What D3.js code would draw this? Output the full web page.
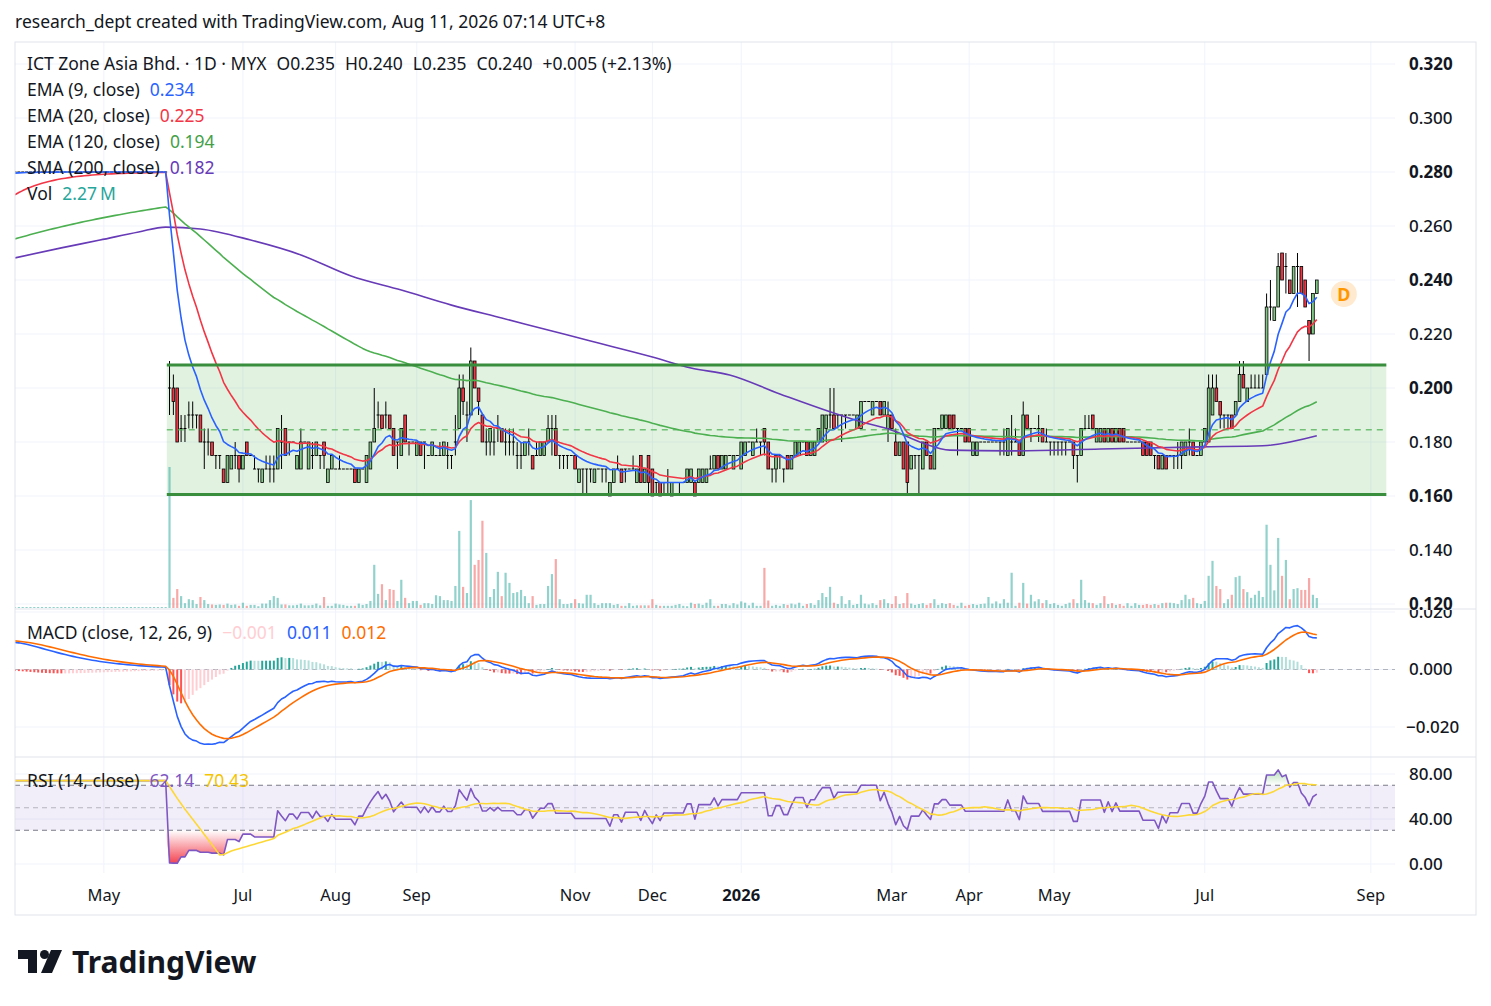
<!DOCTYPE html>
<html>
<head>
<meta charset="utf-8">
<title>ICT Zone Asia Bhd. 1D</title>
<script src="https://cdn.jsdelivr.net/npm/d3@7/dist/d3.min.js"></script>
<style>
	body { margin: 0; background: #ffffff; }
	svg text { font-family: "Noto Sans", Roboto, "DejaVu Sans", sans-serif; }
</style>
</head>
<body>
<script>
(function(){

	//halted stretch before trading resumed: flat prints at 0.280, next to no volume
	var haltedPrices = [280,280,280,280,280,280,280,280,280,280,280,280,280,280,280,280,280,280,280,280,
		280,280,280,280,280,280,280,280,280,280,280,280,280,280,280,280,280,280,280,280];
	var haltedVolumes = [0.05,0.05,0.05,0.05,0.05,0.05,0.05,0.05,0.05,0.05,0.05,0.05,0.05,0.05,0.05,0.05,0.05,0.05,0.05,0.05,
		0.05,0.05,0.05,0.05,0.05,0.05,0.05,0.05,0.05,0.05,0.05,0.05,0.05,0.05,0.05,0.05,0.05,0.05,0.05,0.05];

	//daily candles after resumption, prices in thousandths of a ringgit
	var opens = [200,200,200,185,185,190,190,190,190,180, 180,180,175,175,170,165,170,175,175,170,
		180,175,170,170,165,170,170,170,170,180, 185,180,180,170,170,180,170,175,175,175,
		180,165,170,170,170,170,170,170,170,165, 170,165,170,180,190,190,190,190,185,180,
		175,190,180,180,175,180,180,175,175,175, 175,175,175,175,180,185,200,190,190,210,
		200,190,180,180,180,185,185,180,180,180, 175,175,175,180,175,175,175,175,180,185,
		185,175,175,175,175,175,165,170,170,170, 165,170,170,170,160,165,170,170,170,170,
		170,165,175,165,175,170,165,165,165,165, 160,165,165,165,165,165,165,165,165,165,
		170,170,175,170,170,175,170,175,170,175, 180,175,180,180,185,180,170,170,175,170,
		175,170,175,175,180,180,175,175,180,180, 185,190,190,190,190,190,190,190,185,185,
		195,195,190,195,195,190,185,190,180,175, 180,180,170,175,175,170,180,175,170,185,
		185,185,190,190,185,185,185,185,175,175, 180,180,180,180,180,180,180,175,180,180,
		180,175,190,185,185,185,185,180,180,180, 180,180,180,180,180,175,175,185,185,190,
		180,180,185,180,185,180,185,185,180,180, 180,180,180,180,180,175,175,170,175,175,
		175,175,175,175,180,180,175,175,180,180, 190,200,195,190,190,190,190,195,205,195,
		200,200,200,200,205,230,225,230,250,245, 240,235,245,245,240,225,220,235];
	var highs = [210,205,200,190,190,195,195,190,190,185, 185,180,175,175,170,175,175,180,175,175,
		180,175,175,170,170,175,175,175,185,190, 185,180,180,175,185,180,180,180,180,175,
		180,170,175,170,175,170,170,170,170,170, 170,175,180,200,195,190,195,190,185,180,
		185,190,180,180,180,180,180,175,180,175, 180,180,180,175,190,205,205,195,215,210,
		200,190,185,185,185,190,185,185,185,185, 180,180,180,185,175,180,180,180,190,190,
		190,175,175,175,175,175,170,170,170,170, 170,170,170,170,165,170,175,170,170,170,
		175,170,175,170,175,170,165,165,165,170, 165,165,165,165,170,170,165,170,170,170,
		175,175,175,175,175,175,175,175,180,180, 180,180,185,180,185,180,170,175,175,170,
		175,175,180,180,180,180,180,180,185,190, 190,200,200,190,190,190,190,190,190,195,
		195,195,195,195,195,195,195,190,185,180, 180,180,175,175,175,180,180,175,185,185,
		190,190,190,190,185,185,185,185,180,180, 180,180,180,180,180,180,185,185,190,185,
		180,195,190,185,185,190,185,185,180,180, 180,180,180,180,180,175,185,190,190,190,
		185,185,185,185,185,185,185,185,180,180, 180,180,180,180,180,175,175,175,175,175,
		175,180,180,180,185,180,175,180,185,205, 205,205,195,190,190,190,195,210,210,200,
		205,205,205,205,235,240,230,250,250,250, 240,245,250,245,240,225,235,240];
	var lows = [190,190,180,180,180,185,185,185,180,170, 175,175,170,170,165,165,170,170,165,170,
		175,175,170,165,165,170,165,165,170,170, 175,175,180,170,170,180,170,170,175,170,
		170,165,170,170,170,170,170,170,165,165, 170,165,170,180,185,185,185,185,175,170,
		175,180,175,180,175,175,170,175,175,175, 175,175,170,170,175,185,190,180,190,200,
		190,180,175,175,175,180,180,175,175,175, 170,170,175,175,170,175,175,175,180,175,
		175,170,170,170,175,170,165,160,160,165, 165,170,165,165,160,165,170,165,165,170,
		170,165,165,165,160,160,160,160,160,160, 160,165,160,165,165,165,160,165,165,165,
		170,170,170,170,170,175,170,175,170,175, 180,175,180,175,175,170,165,165,170,165,
		170,170,175,175,180,175,175,175,180,180, 180,185,185,185,180,185,190,190,185,185,
		195,195,190,195,190,190,180,185,175,175, 170,160,170,170,160,170,175,170,170,185,
		185,185,185,185,175,185,180,180,175,175, 180,180,180,180,180,175,175,175,175,180,
		175,175,185,180,185,180,180,180,175,175, 175,175,175,180,170,165,175,185,185,185,
		180,180,180,180,180,180,180,180,180,180, 180,180,175,175,175,170,170,170,170,175,
		170,170,170,175,175,175,175,175,180,180, 190,195,185,185,185,185,190,195,200,195,
		200,200,200,200,205,225,225,230,240,235, 235,235,230,235,230,210,220,235];
	var closes = [200,195,180,185,185,190,190,190,180,180, 180,175,175,175,165,175,175,175,170,175,
		175,175,170,170,170,170,170,170,185,180, 175,180,180,175,180,180,180,175,180,175,
		175,170,175,170,170,170,170,170,165,170, 170,175,180,185,190,185,190,185,175,180,
		185,180,180,180,180,175,180,175,180,175, 175,180,175,175,180,200,195,190,210,200,
		195,180,180,185,180,185,180,180,180,180, 175,175,180,180,170,175,180,180,185,185,
		175,175,175,175,175,170,170,170,170,170, 170,170,170,170,165,170,170,165,170,170,
		170,170,165,170,165,160,165,160,165,165, 165,165,165,165,170,170,160,170,170,170,
		170,175,170,175,175,175,175,175,180,180, 180,180,180,180,180,170,170,175,175,170,
		170,175,180,180,180,175,180,180,185,190, 190,190,185,190,190,190,190,190,190,195,
		195,195,195,195,190,195,190,185,175,180, 170,165,175,175,175,180,175,170,185,185,
		190,190,185,185,185,185,180,180,180,180, 180,180,180,180,180,180,180,185,180,180,
		175,190,185,185,185,185,180,180,180,180, 180,180,180,180,175,175,185,185,185,185,
		185,185,180,185,180,185,180,180,180,180, 180,180,175,175,175,175,170,175,170,175,
		175,175,180,180,180,175,175,180,185,200, 200,195,190,190,190,185,195,205,200,200,
		200,200,200,200,230,230,230,245,240,245, 235,245,245,235,230,220,235,240];
	//daily volume, millions of shares
	var volumes = [32,2.3,4.3,2.7,1.1,2.0,1.8,0.9,2.5,1.8, 0.9,0.8,0.7,0.8,0.7,1.0,0.7,0.8,0.5,1.2,
		0.5,0.7,0.7,0.4,1.0,1.0,1.8,2.7,2.3,0.8, 0.8,0.6,0.6,0.7,1.0,0.6,0.6,0.7,1.0,0.6,
		2.5,0.5,0.5,1.0,0.8,0.7,0.5,0.5,0.5,1.0, 0.7,0.9,1.6,9.8,3.2,5.4,1.8,4.3,4.1,1.6,
		6.4,2.3,1.1,1.6,1.6,0.7,1.1,1.1,0.9,2.9, 2.7,1.8,1.8,1.6,5.0,17.5,4.8,3.4,24.5,9.8,
		10.9,19.8,12.5,2.5,4.3,8.2,2.7,8.0,5.7,3.4, 3.6,4.1,2.7,1.1,2.7,0.7,0.9,0.9,5.0,7.7,
		11.1,2.0,0.9,0.9,1.1,2.0,1.1,1.0,3.0,3.0, 1.1,0.7,1.1,1.1,1.1,0.7,0.9,0.5,0.5,1.1,
		0.5,0.6,0.6,0.6,0.6,2.0,0.7,0.5,0.5,0.5, 0.5,0.7,0.9,0.5,0.4,1.2,0.9,1.0,0.7,1.2,
		2.0,0.5,0.5,0.9,0.9,0.6,1.1,0.8,1.5,1.2, 0.6,1.2,0.5,0.5,9.1,1.7,0.5,0.7,0.5,0.9,
		0.7,1.0,0.8,1.2,0.5,0.9,1.1,0.7,1.8,3.4, 2.5,4.8,1.2,0.9,2.7,0.9,1.8,0.7,0.9,3.0,
		1.0,0.8,1.1,0.7,1.8,2.0,1.1,0.9,2.7,0.9, 1.1,3.4,1.0,0.7,0.9,1.1,0.7,1.1,2.0,0.7,
		1.1,0.9,1.1,0.7,0.5,1.2,0.5,0.7,0.9,0.7, 0.9,1.0,2.5,1.0,1.5,1.0,2.0,1.2,8.0,0.5,
		1.2,5.7,1.0,3.0,1.5,2.0,1.1,1.8,0.9,1.1, 0.7,0.5,0.9,1.2,2.0,1.1,6.4,1.8,1.2,1.1,
		0.7,1.1,2.7,0.9,1.1,0.7,0.9,0.5,1.1,0.5, 1.1,0.7,0.7,0.9,0.7,0.9,0.7,1.1,1.2,1.2,
		1.1,0.9,1.8,3.0,2.0,2.3,1.1,0.9,1.6,7.3, 10.7,5.0,4.3,1.1,2.0,3.0,7.0,7.3,4.3,3.6,
		2.3,3.0,3.9,2.5,18.9,9.8,4.0,15.9,7.3,10.9, 2.0,4.3,4.5,4.1,4.1,6.8,3.0,2.27];

	//SMA 200 at bar positions (bar index counted from the left edge)
	var smaIndex = [0,12,22,32,39,48,61,74,87,100,113,126,139,149,165,175,185,198,219,227,235,242,257,281,307,323,337];
	var smaValue = [0.2482,0.2519,0.2548,0.2578,0.2596,0.2589,0.2548,0.2493,0.2415,0.2363,0.2307,0.2259,0.2211,0.2174,
		0.2115,0.2074,0.2048,0.1978,0.1875,0.1844,0.1796,0.1770,0.1767,0.1774,0.1782,0.1786,0.1823];

	//indicator state at the left edge of the chart
	var seedEma9 = 0.2795, seedEma20 = 0.2707, seedEma120 = 0.2548,
		seedEma12 = 0.272, seedEma26 = 0.2625, seedSignal = 0.0101,
		seedAvgGain = 0.0010, seedAvgLoss = 0.00035;

	//parallel channel drawn on the chart
	var channelTop = 0.2085, channelBottom = 0.1606, channelStart = 39.3, channelEnd = 355;

	//axis labels
	var priceTicks = [0.320,0.300,0.280,0.260,0.240,0.220,0.200,0.180,0.160,0.140,0.120];
	var macdTicks = [0.020, 0.000, -0.020];
	var macdTickLabels = ["0.020", "0.000", "\u22120.020"];
	var rsiTicks = [80, 40, 0];
	var rsiTickLabels = ["80.00", "40.00", "0.00"];
	var timeIndex = [23, 59, 83, 104, 145, 165, 188, 227, 247, 269, 308, 351];
	var timeLabels = ["May", "Jul", "Aug", "Sep", "Nov", "Dec", "2026", "Mar", "Apr", "May", "Jul", "Sep"];
	var dividendMark = { index: 344, price: 0.2348, label: "D" };

	//legend texts
	var ink = "#131722";
	var priceLegend = [
		[["ICT Zone Asia Bhd. \u00b7 1D \u00b7 MYX", ink], ["O0.235", ink], ["H0.240", ink], ["L0.235", ink], ["C0.240", ink], ["+0.005 (+2.13%)", ink]],
		[["EMA (9, close)", ink], ["0.234", "#2962ff"]],
		[["EMA (20, close)", ink], ["0.225", "#f23645"]],
		[["EMA (120, close)", ink], ["0.194", "#43a047"]],
		[["SMA (200, close)", ink], ["0.182", "#673ab7"]],
		[["Vol", ink], ["2.27\u2009M", "#26a69a"]]
	];
	var macdLegend = [["MACD (close, 12, 26, 9)", ink], ["\u22120.001", "#ffcdd2"], ["0.011", "#2962ff"], ["0.012", "#ff6d00"]];
	var rsiLegend = [["RSI (14, close)", ink], ["62.14", "#7e57c2"], ["70.43", "#f5c400"]];

	//layout
	var width = 1491, height = 1006,
		plotLeft = 15, plotRight = 1395, frameRight = 1476,
		frameTop = 42, priceBottom = 609, macdBottom = 757, rsiBottom = 873, frameBottom = 915;

	//join the halted stretch with the traded bars
	var o = haltedPrices.concat(opens).map(function(v){ return v / 1000; }),
		h = haltedPrices.concat(highs).map(function(v){ return v / 1000; }),
		l = haltedPrices.concat(lows).map(function(v){ return v / 1000; }),
		c = haltedPrices.concat(closes).map(function(v){ return v / 1000; }),
		vol = haltedVolumes.concat(volumes);
	var n = c.length;

	//scales
	var x = d3.scaleLinear().domain([0, n - 1]).range([plotLeft, 1316.8]);
	var yPrice = d3.scaleLinear().domain([0.120, 0.320]).range([604, 64]);
	var yVol = d3.scaleLinear().domain([0, 32]).range([608, 467]);
	var yMacd = d3.scaleLinear().domain([-0.020, 0.020]).range([727, 612]);
	var yRsi = d3.scaleLinear().domain([0, 80]).range([864, 774]);

	//indicators
	function ema(values, period, seed){
		var a = 2 / (period + 1), prev = seed;
		return values.map(function(v){
			prev = prev + a * (v - prev);
			return prev;
		});
	};
	var ema9 = ema(c, 9, seedEma9),
		ema20 = ema(c, 20, seedEma20),
		ema120 = ema(c, 120, seedEma120),
		ema12 = ema(c, 12, seedEma12),
		ema26 = ema(c, 26, seedEma26);
	var macd = ema12.map(function(v, i){ return v - ema26[i]; });
	var signal = ema(macd, 9, seedSignal);
	var hist = macd.map(function(v, i){ return v - signal[i]; });

	var avgGain = seedAvgGain, avgLoss = seedAvgLoss;
	var rsi = c.map(function(v, i){
		var ch = i ? v - c[i - 1] : 0;
		avgGain = (avgGain * 13 + Math.max(ch, 0)) / 14;
		avgLoss = (avgLoss * 13 + Math.max(-ch, 0)) / 14;
		return 100 - 100 / (1 + avgGain / avgLoss);
	});
	var seedRsi = 100 - 100 / (1 + seedAvgGain / seedAvgLoss);
	var rsiMa = rsi.map(function(v, i){
		var s = 0;
		for (var k = i - 13; k <= i; k++){ s += k >= 0 ? rsi[k] : seedRsi; }
		return s / 14;
	});

	//svg container
	var svg = d3.select("body")
		.append("svg")
		.attr("width", width)
		.attr("height", height);

	var defs = svg.append("defs");
	function addClip(id, x0, x1, y0, y1){
		defs.append("clipPath").attr("id", id)
			.append("rect")
			.attr("x", x0).attr("y", y0)
			.attr("width", x1 - x0).attr("height", y1 - y0);
	};
	addClip("clipPrice", plotLeft, plotRight, frameTop, priceBottom);
	addClip("clipMacd", plotLeft, plotRight, priceBottom, macdBottom);
	addClip("clipRsi", plotLeft, plotRight, macdBottom, rsiBottom);
	addClip("clipMacdAxis", plotRight, frameRight, priceBottom + 1, macdBottom);

	var oversold = defs.append("linearGradient").attr("id", "oversold")
		.attr("gradientUnits", "userSpaceOnUse")
		.attr("x1", 0).attr("x2", 0).attr("y1", yRsi(30)).attr("y2", yRsi(0));
	oversold.append("stop").attr("offset", "0%").attr("stop-color", "#f23645").attr("stop-opacity", 0);
	oversold.append("stop").attr("offset", "100%").attr("stop-color", "#f23645").attr("stop-opacity", 0.95);
	var overbought = defs.append("linearGradient").attr("id", "overbought")
		.attr("gradientUnits", "userSpaceOnUse")
		.attr("x1", 0).attr("x2", 0).attr("y1", yRsi(70)).attr("y2", yRsi(100));
	overbought.append("stop").attr("offset", "0%").attr("stop-color", "#4caf50").attr("stop-opacity", 0);
	overbought.append("stop").attr("offset", "100%").attr("stop-color", "#4caf50").attr("stop-opacity", 0.9);

	//header line
	svg.append("text")
		.attr("x", 15).attr("y", 22).attr("dy", "0.35em")
		.attr("fill", ink)
		.style("font-size", "17.5px")
		.text("research_dept created with TradingView.com, Aug 11, 2026 07:14 UTC+8");

	//grid
	var grid = svg.append("g").attr("class", "grid");
	grid.selectAll(".vgrid")
		.data(timeIndex)
		.enter()
		.append("line")
		.attr("x1", function(d){ return x(d); })
		.attr("x2", function(d){ return x(d); })
		.attr("y1", frameTop).attr("y2", rsiBottom)
		.attr("stroke", "#f0f3fa").attr("stroke-width", 1);
	grid.selectAll(".pgrid")
		.data(priceTicks)
		.enter()
		.append("line")
		.attr("x1", plotLeft).attr("x2", plotRight)
		.attr("y1", function(d){ return yPrice(d); })
		.attr("y2", function(d){ return yPrice(d); })
		.attr("stroke", "#f0f3fa");
	grid.selectAll(".mgrid")
		.data(macdTicks)
		.enter()
		.append("line")
		.attr("x1", plotLeft).attr("x2", plotRight)
		.attr("y1", function(d){ return yMacd(d); })
		.attr("y2", function(d){ return yMacd(d); })
		.attr("stroke", "#f0f3fa");
	grid.selectAll(".rgrid")
		.data(rsiTicks)
		.enter()
		.append("line")
		.attr("x1", plotLeft).attr("x2", plotRight)
		.attr("y1", function(d){ return yRsi(d); })
		.attr("y2", function(d){ return yRsi(d); })
		.attr("stroke", "#f0f3fa");

	//---------- price pane ----------
	var price = svg.append("g").attr("clip-path", "url(#clipPrice)");

	//channel fill behind everything
	price.append("rect")
		.attr("x", x(channelStart))
		.attr("y", yPrice(channelTop))
		.attr("width", x(channelEnd) - x(channelStart))
		.attr("height", yPrice(channelBottom) - yPrice(channelTop))
		.attr("fill", "rgba(76,175,80,0.17)");

	//volume
	price.selectAll(".vol")
		.data(vol)
		.enter()
		.append("rect")
		.attr("class", "vol")
		.attr("x", function(d, i){ return x(i) - 1.1; })
		.attr("width", 2.2)
		.attr("y", function(d){ return Math.min(yVol(d), yVol(0) - 1); })
		.attr("height", function(d){ return Math.max(1, yVol(0) - yVol(d)); })
		.attr("fill", function(d, i){
			return c[i] >= o[i] ? "rgba(38,166,154,0.5)" : "rgba(239,83,80,0.5)";
		});

	//candles
	var candles = price.selectAll(".candle")
		.data(d3.range(n))
		.enter()
		.append("g")
		.attr("class", "candle");
	candles.filter(function(i){ return h[i] > l[i]; })
		.append("line")
		.attr("x1", function(i){ return x(i); })
		.attr("x2", function(i){ return x(i); })
		.attr("y1", function(i){ return yPrice(h[i]); })
		.attr("y2", function(i){ return yPrice(l[i]); })
		.attr("stroke", "#000").attr("stroke-width", 1);
	candles.filter(function(i){ return o[i] === c[i]; })
		.append("line")
		.attr("x1", function(i){ return x(i) - 1.5; })
		.attr("x2", function(i){ return x(i) + 1.5; })
		.attr("y1", function(i){ return yPrice(c[i]); })
		.attr("y2", function(i){ return yPrice(c[i]); })
		.attr("stroke", "#000").attr("stroke-width", 1);
	candles.filter(function(i){ return o[i] !== c[i]; })
		.append("rect")
		.attr("x", function(i){ return x(i) - 1.35; })
		.attr("width", 2.7)
		.attr("y", function(i){ return yPrice(Math.max(o[i], c[i])); })
		.attr("height", function(i){ return Math.abs(yPrice(o[i]) - yPrice(c[i])); })
		.attr("fill", function(i){ return c[i] > o[i] ? "#81c784" : "#f23645"; })
		.attr("stroke", "#000").attr("stroke-width", 0.8);

	//moving averages
	var lineIdx = d3.line()
		.x(function(d, i){ return x(i); });
	function drawLine(g, values, yScale, color, w){
		g.append("path")
			.datum(values)
			.attr("d", lineIdx.y(function(d){ return yScale(d); }))
			.attr("fill", "none")
			.attr("stroke", color)
			.attr("stroke-width", w)
			.attr("stroke-linejoin", "round");
	};
	price.append("path")
		.datum(smaIndex)
		.attr("d", d3.line()
			.curve(d3.curveMonotoneX)
			.x(function(d){ return x(d); })
			.y(function(d, k){ return yPrice(smaValue[k]); }))
		.attr("fill", "none")
		.attr("stroke", "#673ab7")
		.attr("stroke-width", 1.6);
	drawLine(price, ema120, yPrice, "#4caf50", 1.6);
	drawLine(price, ema20, yPrice, "#f23645", 1.6);
	drawLine(price, ema9, yPrice, "#2962ff", 1.6);

	//channel borders and middle line
	[channelTop, channelBottom].forEach(function(p){
		price.append("line")
			.attr("x1", x(channelStart)).attr("x2", x(channelEnd))
			.attr("y1", yPrice(p)).attr("y2", yPrice(p))
			.attr("stroke", "#388e3c").attr("stroke-width", 3);
	});
	price.append("line")
		.attr("x1", x(channelStart)).attr("x2", x(channelEnd))
		.attr("y1", yPrice((channelTop + channelBottom) / 2))
		.attr("y2", yPrice((channelTop + channelBottom) / 2))
		.attr("stroke", "#4caf50").attr("stroke-opacity", 0.75)
		.attr("stroke-width", 1.5).attr("stroke-dasharray", "6,5");

	//dividend marker
	svg.append("circle")
		.attr("cx", x(dividendMark.index)).attr("cy", yPrice(dividendMark.price))
		.attr("r", 13).attr("fill", "#ffe9cf");
	svg.append("text")
		.attr("x", x(dividendMark.index)).attr("y", yPrice(dividendMark.price))
		.attr("dy", "0.36em").attr("text-anchor", "middle")
		.attr("fill", "#ff9800")
		.style("font-size", "18px").style("font-weight", "700")
		.text(dividendMark.label);

	//---------- MACD pane ----------
	var macdG = svg.append("g").attr("clip-path", "url(#clipMacd)");
	macdG.append("line")
		.attr("x1", plotLeft).attr("x2", plotRight)
		.attr("y1", yMacd(0)).attr("y2", yMacd(0))
		.attr("stroke", "#9598a1").attr("stroke-dasharray", "5,4").attr("stroke-opacity", 0.7);
	macdG.selectAll(".hist")
		.data(hist)
		.enter()
		.append("rect")
		.attr("x", function(d, i){ return x(i) - 1; })
		.attr("width", 2)
		.attr("y", function(d){ return d >= 0 ? yMacd(d) : yMacd(0); })
		.attr("height", function(d){ return Math.abs(yMacd(d) - yMacd(0)); })
		.attr("fill", function(d, i){
			var prev = i ? hist[i - 1] : d;
			if (d >= 0) return d > prev ? "#26a69a" : "#b2dfdb";
			return d > prev ? "#ffcdd2" : "#ff5252";
		});
	drawLine(macdG, macd, yMacd, "#2962ff", 1.6);
	drawLine(macdG, signal, yMacd, "#ff6d00", 1.6);

	//---------- RSI pane ----------
	var rsiG = svg.append("g").attr("clip-path", "url(#clipRsi)");
	rsiG.append("rect")
		.attr("x", plotLeft).attr("width", plotRight - plotLeft)
		.attr("y", yRsi(70)).attr("height", yRsi(30) - yRsi(70))
		.attr("fill", "rgba(126,87,194,0.1)");
	[70, 30].forEach(function(v){
		rsiG.append("line")
			.attr("x1", plotLeft).attr("x2", plotRight)
			.attr("y1", yRsi(v)).attr("y2", yRsi(v))
			.attr("stroke", "#787b86").attr("stroke-dasharray", "5,4");
	});
	rsiG.append("line")
		.attr("x1", plotLeft).attr("x2", plotRight)
		.attr("y1", yRsi(50)).attr("y2", yRsi(50))
		.attr("stroke", "#787b86").attr("stroke-opacity", 0.5).attr("stroke-dasharray", "5,4");
	rsiG.append("path")
		.datum(rsi)
		.attr("d", d3.area()
			.x(function(d, i){ return x(i); })
			.y0(yRsi(30))
			.y1(function(d){ return yRsi(Math.min(d, 30)); }))
		.attr("fill", "url(#oversold)");
	rsiG.append("path")
		.datum(rsi)
		.attr("d", d3.area()
			.x(function(d, i){ return x(i); })
			.y0(yRsi(70))
			.y1(function(d){ return yRsi(Math.max(d, 70)); }))
		.attr("fill", "url(#overbought)");
	drawLine(rsiG, rsi, yRsi, "#7e57c2", 1.6);
	drawLine(rsiG, rsiMa, yRsi, "#fdd835", 1.6);

	//---------- frame and pane separators ----------
	svg.append("rect")
		.attr("x", plotLeft).attr("y", frameTop)
		.attr("width", frameRight - plotLeft).attr("height", frameBottom - frameTop)
		.attr("fill", "none").attr("stroke", "#e0e3eb");
	[priceBottom, macdBottom].forEach(function(yy){
		svg.append("line")
			.attr("x1", plotLeft).attr("x2", frameRight)
			.attr("y1", yy).attr("y2", yy)
			.attr("stroke", "#e0e3eb");
	});

	//---------- axes ----------
	svg.selectAll(".plabel")
		.data(priceTicks)
		.enter()
		.append("text")
		.attr("x", 1409).attr("y", function(d){ return yPrice(d); })
		.attr("dy", "0.35em")
		.attr("fill", ink)
		.style("font-size", "17px")
		.style("font-weight", function(d, i){ return i % 2 === 0 ? "700" : "500"; })
		.text(function(d){ return d3.format(".3f")(d); });
	//MACD scale labels are cut off at the pane top, as in the screenshot
	svg.append("g")
		.attr("clip-path", "url(#clipMacdAxis)")
		.selectAll(".mlabel")
		.data(macdTicks)
		.enter()
		.append("text")
		.attr("x", function(d){ return d < 0 ? 1406 : 1409; })
		.attr("y", function(d){ return yMacd(d); })
		.attr("dy", "0.35em")
		.attr("fill", ink)
		.style("font-size", "17px").style("font-weight", "500")
		.text(function(d, i){ return macdTickLabels[i]; });
	svg.selectAll(".rlabel")
		.data(rsiTicks)
		.enter()
		.append("text")
		.attr("x", 1409)
		.attr("y", function(d){ return yRsi(d); })
		.attr("dy", "0.35em")
		.attr("fill", ink)
		.style("font-size", "17px").style("font-weight", "500")
		.text(function(d, i){ return rsiTickLabels[i]; });
	svg.selectAll(".tlabel")
		.data(timeIndex)
		.enter()
		.append("text")
		.attr("x", function(d){ return x(d); })
		.attr("y", 895).attr("dy", "0.35em")
		.attr("text-anchor", "middle")
		.attr("fill", ink)
		.style("font-size", "16.5px")
		.style("font-weight", function(d, i){ return timeLabels[i] === "2026" ? "700" : "400"; })
		.text(function(d, i){ return timeLabels[i]; });

	//---------- legends ----------
	function legendRow(y, parts){
		var cursor = 27;
		parts.forEach(function(p){
			var t = svg.append("text")
				.attr("x", cursor).attr("y", y).attr("dy", "0.35em")
				.attr("fill", p[1])
				.style("font-size", "17.5px")
				.text(p[0]);
			cursor += t.node().getComputedTextLength() + 10;
		});
	};
	priceLegend.forEach(function(row, k){ legendRow(64 + k * 26, row); });
	legendRow(633, macdLegend);
	legendRow(781, rsiLegend);

	//---------- TradingView mark ----------
	var logo = svg.append("g").attr("fill", ink);
	logo.append("path").attr("d", "M18,950 H37 V973 H28 V959 H18 Z");
	logo.append("circle").attr("cx", 44.5).attr("cy", 954.5).attr("r", 4.5);
	logo.append("path").attr("d", "M51,950 H62 L52,973 H41 Z");
	svg.append("text")
		.attr("x", 72).attr("y", 962).attr("dy", "0.35em")
		.attr("fill", ink)
		.style("font-size", "30px").style("font-weight", "700")
		.text("TradingView");
})();
</script>
</body>
</html>
